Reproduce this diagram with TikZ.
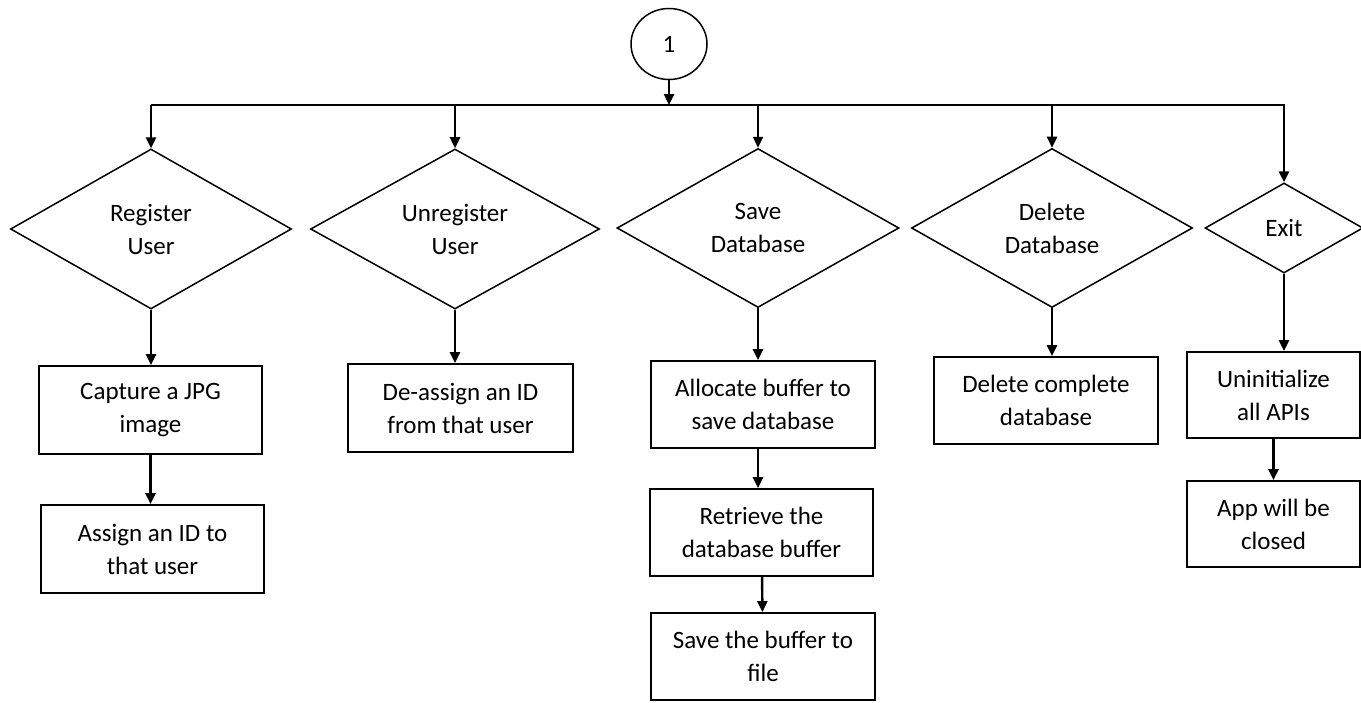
\documentclass[tikz,border=0pt]{standalone}
\usepackage{fontspec}
\setmainfont{Carlito}
\usetikzlibrary{shapes.geometric}
\usetikzlibrary{arrows.meta}

\begin{document}
\begin{tikzpicture}[x=1pt,y=-1pt,font=\fontsize{25}{33}\selectfont,
  dec/.style={draw,diamond,inner sep=0pt,align=center,line width=1.5pt},
  box/.style={draw,rectangle,inner sep=0pt,align=center,line width=1.8pt},
  arr/.style={-{Triangle[length=11pt,width=10pt]},line width=2.4pt}]
\useasboundingbox (0,0) rectangle (1361,702);
\node[draw,ellipse,minimum width=76pt,minimum height=71pt,line width=1.5pt] (one) at (669,44) {1};
\coordinate (bus) at (669,105);
\node[dec,minimum width=281pt,minimum height=160pt] (reg) at (151,229) {Register\\User};
\node[dec,minimum width=289pt,minimum height=160pt] (unreg) at (455,229) {Unregister\\User};
\node[dec,minimum width=282pt,minimum height=159pt] (save) at (758,228) {Save\\Database};
\node[dec,minimum width=281pt,minimum height=159pt] (del) at (1052,228) {Delete\\Database};
\node[dec,minimum width=158pt,minimum height=90pt] (exit) at (1284,228) {Exit};
\node[box,minimum width=223pt,minimum height=88pt] (cap) at (150.5,410) {Capture a JPG\\image};
\node[box,minimum width=223pt,minimum height=88pt] (assign) at (152.5,549) {Assign an ID to\\that user};
\node[box,minimum width=225pt,minimum height=88pt] (deassign) at (460.5,408) {De-assign an ID\\from that user};
\node[box,minimum width=224pt,minimum height=87pt] (alloc) at (763,404.5) {Allocate buffer to\\save database};
\node[box,minimum width=223pt,minimum height=87pt] (retr) at (761.5,532.5) {Retrieve the\\database buffer};
\node[box,minimum width=224pt,minimum height=87pt] (savebuf) at (763,656.5) {Save the buffer to\\file};
\node[box,minimum width=224pt,minimum height=87pt] (delall) at (1046,400.5) {Delete complete\\database};
\node[box,minimum width=173pt,minimum height=86pt] (uninit) at (1273.5,395) {Uninitialize\\all APIs};
\node[box,minimum width=173pt,minimum height=86pt] (close) at (1273.5,524) {App will be\\closed};
\draw[arr] (one) -- (bus);
\draw[arr,line width=2.8pt] (reg.north |- bus) -- (exit.north |- bus) -- (exit);
\draw[arr] (reg.north |- bus) -- (reg);
\draw[arr] (unreg.north |- bus) -- (unreg);
\draw[arr] (save.north |- bus) -- (save);
\draw[arr] (del.north |- bus) -- (del);
\draw[arr] (reg) -- (reg.south |- cap.north);
\draw[arr] (cap) -- (cap.south |- assign.north);
\draw[arr] (unreg) -- (unreg.south |- deassign.north);
\draw[arr] (save) -- (save.south |- alloc.north);
\draw[arr] (alloc.south -| save.south) -- (save.south |- retr.north);
\draw[arr] (retr) -- (savebuf);
\draw[arr] (del) -- (del.south |- delall.north);
\draw[arr] (exit) -- (exit.south |- uninit.north);
\draw[arr] (uninit) -- (close);
\end{tikzpicture}
\end{document}
